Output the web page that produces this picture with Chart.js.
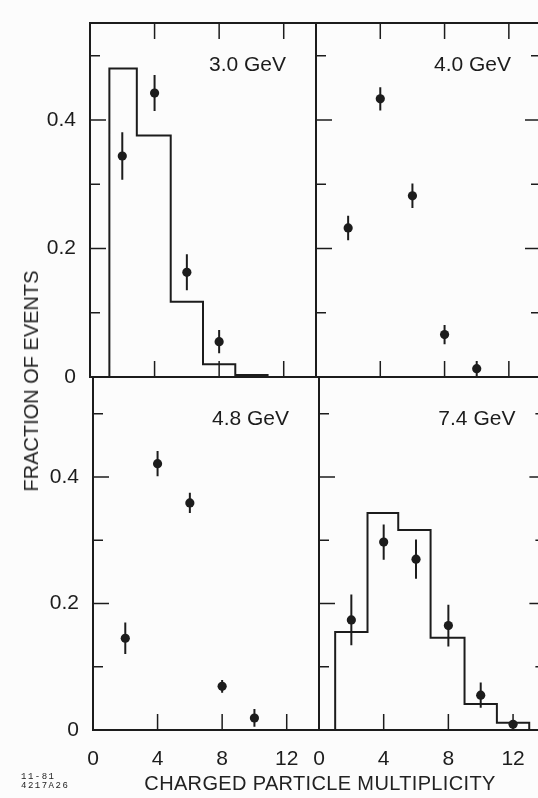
<!DOCTYPE html>
<html>
<head>
<meta charset="utf-8">
<script src="https://cdn.jsdelivr.net/npm/chart.js@4.4.1/dist/chart.umd.min.js"></script>
<style>
  html, body { margin: 0; padding: 0; background: #fcfcfc; overflow: hidden; }
  body { width: 538px; height: 798px; position: relative; font-family: 'Liberation Sans', sans-serif; color: #222; }
  canvas { position: absolute; left: 0; top: 0; }
  .label { position: absolute; white-space: nowrap; line-height: 1; }
  #ytitle { left: 30.5px; top: 381px; font-size: 20px; transform: translate(-50%, -50%) rotate(-90deg); }
  #xtitle { left: 320px; top: 783px; font-size: 20px; letter-spacing: 0.35px; transform: translate(-50%, -50%); }
  #code { left: 21px; top: 773px; font-family: 'Liberation Mono', monospace; font-size: 9px; line-height: 9px; letter-spacing: 1.5px; }
</style>
</head>
<body>
<canvas id="c30" width="550" height="798"></canvas>
<canvas id="c40" width="550" height="798"></canvas>
<canvas id="c48" width="550" height="798"></canvas>
<canvas id="c74" width="550" height="798"></canvas>
<div class="label" id="ytitle">FRACTION OF EVENTS</div>
<div class="label" id="xtitle">CHARGED PARTICLE MULTIPLICITY</div>
<div class="label" id="code">11-81<br>4217A26</div>
<script>
// tick values
const xLabels = [0, 4, 8, 12];
const yLabels = [0, 0.2, 0.4];
const xMarks = [4, 8, 12];
const yMarks = [0.1, 0.2, 0.3, 0.4, 0.5];

// 3.0 GeV
const mult30 = [2, 4, 6, 8];
const frac30 = [0.344, 0.442, 0.163, 0.055];
const err30 = [0.037, 0.028, 0.028, 0.018];
const edges30 = [1.2, 2.9, 5, 7, 9, 11];
const hist30 = [0.480, 0.376, 0.117, 0.020, 0.003];

// 4.0 GeV
const mult40 = [2, 4, 6, 8, 10];
const frac40 = [0.232, 0.433, 0.282, 0.066, 0.013];
const err40 = [0.019, 0.018, 0.019, 0.015, 0.012];

// 4.8 GeV
const mult48 = [2, 4, 6, 8, 10];
const frac48 = [0.145, 0.421, 0.359, 0.069, 0.019];
const err48 = [0.025, 0.020, 0.016, 0.010, 0.014];

// 7.4 GeV
const mult74 = [2, 4, 6, 8, 10, 12];
const frac74 = [0.174, 0.297, 0.270, 0.165, 0.055, 0.009];
const err74 = [0.040, 0.028, 0.031, 0.033, 0.020, 0.005];
const edges74 = [1, 3, 4.9, 6.9, 9, 11, 13];
const hist74 = [0.155, 0.343, 0.316, 0.146, 0.041, 0.0115];

const ink = '#1c1c1c';
const W = 550, H = 798;

// frame, inward ticks and energy label
const framePlugin = {
    id: 'frame',
    afterDatasetsDraw(chart, args, opts) {
        const { ctx, chartArea: a } = chart;
        const x = chart.scales.x, y = chart.scales.y;
        ctx.save();
        ctx.strokeStyle = ink;
        ctx.lineWidth = 2;
        ctx.strokeRect(a.left, a.top, a.right - a.left, a.bottom - a.top);
        ctx.lineWidth = 1.5;
        ctx.beginPath();
        xMarks.forEach(v => {
            const px = x.getPixelForValue(v);
            if (opts.sides.includes('top')) { ctx.moveTo(px, a.top); ctx.lineTo(px, a.top + 16); }
            if (opts.sides.includes('bottom')) { ctx.moveTo(px, a.bottom); ctx.lineTo(px, a.bottom - 16); }
        });
        yMarks.forEach((v, i) => {
            const py = y.getPixelForValue(v);
            const len = i % 2 ? 16 : 10;
            if (opts.sides.includes('left')) { ctx.moveTo(a.left, py); ctx.lineTo(a.left + len, py); }
            if (opts.sides.includes('right')) { ctx.moveTo(a.right, py); ctx.lineTo(a.right - len, py); }
        });
        ctx.stroke();
        ctx.fillStyle = ink;
        ctx.font = '21px "Liberation Sans"';
        ctx.textAlign = 'right';
        ctx.textBaseline = 'alphabetic';
        ctx.fillText(opts.text, a.right - 30, a.top + 48);
        ctx.restore();
    }
};

function pointsSet(mult, frac) {
    return {
        type: 'scatter',
        data: mult.map((m, i) => ({ x: m, y: frac[i] })),
        pointRadius: 4.6,
        pointBackgroundColor: ink,
        pointBorderWidth: 0
    };
}

function errorSet(mult, frac, err) {
    return {
        type: 'line',
        data: mult.flatMap((m, i) => [{ x: m, y: frac[i] - err[i] }, { x: m, y: frac[i] + err[i] }, { x: m, y: null }]),
        borderColor: ink,
        borderWidth: 2,
        pointRadius: 0,
        spanGaps: false
    };
}

function histSet(edges, heights) {
    const pts = [{ x: edges[0], y: 0 }];
    heights.forEach((h, i) => pts.push({ x: edges[i], y: h }));
    pts.push({ x: edges[edges.length - 1], y: 0 });
    return {
        type: 'line',
        data: pts,
        stepped: 'before',
        borderColor: ink,
        borderWidth: 2,
        pointRadius: 0,
        fill: false
    };
}

function panel(id, area, yMax, showX, showY, sides, text, datasets) {
    const yWidth = showY ? area[0] : 0;
    const xHeight = showX ? H - area[3] : 0;
    return new Chart(document.getElementById(id), {
        type: 'scatter',
        data: { datasets: datasets },
        plugins: [framePlugin],
        options: {
            responsive: false,
            animation: false,
            events: [],
            layout: { padding: { left: area[0] - yWidth, top: area[1], right: W - area[2], bottom: H - area[3] - xHeight } },
            plugins: {
                legend: { display: false },
                tooltip: { enabled: false },
                frame: { sides: sides, text: text }
            },
            scales: {
                x: {
                    type: 'linear', min: 0, max: 14,
                    grid: { display: false, drawTicks: false }, border: { display: false },
                    afterBuildTicks: s => { s.ticks = xLabels.map(v => ({ value: v })); },
                    afterFit: s => { s.height = xHeight; s.paddingLeft = 0; s.paddingRight = 0; },
                    ticks: {
                        display: showX, padding: 17, color: ink, autoSkip: false, maxRotation: 0,
                        font: { family: 'Liberation Sans', size: 21 },
                        callback: v => String(v)
                    }
                },
                y: {
                    type: 'linear', min: 0, max: yMax,
                    grid: { display: false, drawTicks: false }, border: { display: false },
                    afterBuildTicks: s => { s.ticks = yLabels.map(v => ({ value: v })); },
                    afterFit: s => { s.width = yWidth; s.paddingTop = 0; s.paddingBottom = 0; },
                    ticks: {
                        display: showY, padding: 14, color: ink,
                        font: { family: 'Liberation Sans', size: 21 },
                        callback: v => v === 0 ? '0' : v.toFixed(1)
                    }
                }
            }
        }
    });
}

panel('c30', [90, 23, 316, 377], 0.551, false, true, ['top', 'bottom', 'left'], '3.0 GeV',
    [pointsSet(mult30, frac30), errorSet(mult30, frac30, err30), histSet(edges30, hist30)]);

panel('c40', [316, 23, 541, 377], 0.551, false, false, ['top', 'bottom', 'left', 'right'], '4.0 GeV',
    [pointsSet(mult40, frac40), errorSet(mult40, frac40, err40)]);

panel('c48', [93, 377, 319, 730], 0.558, true, true, ['bottom', 'left'], '4.8 GeV',
    [pointsSet(mult48, frac48), errorSet(mult48, frac48, err48)]);

panel('c74', [319, 377, 546, 730], 0.558, true, false, ['bottom', 'left', 'right'], '7.4 GeV',
    [pointsSet(mult74, frac74), errorSet(mult74, frac74, err74), histSet(edges74, hist74)]);
</script>
</body>
</html>
